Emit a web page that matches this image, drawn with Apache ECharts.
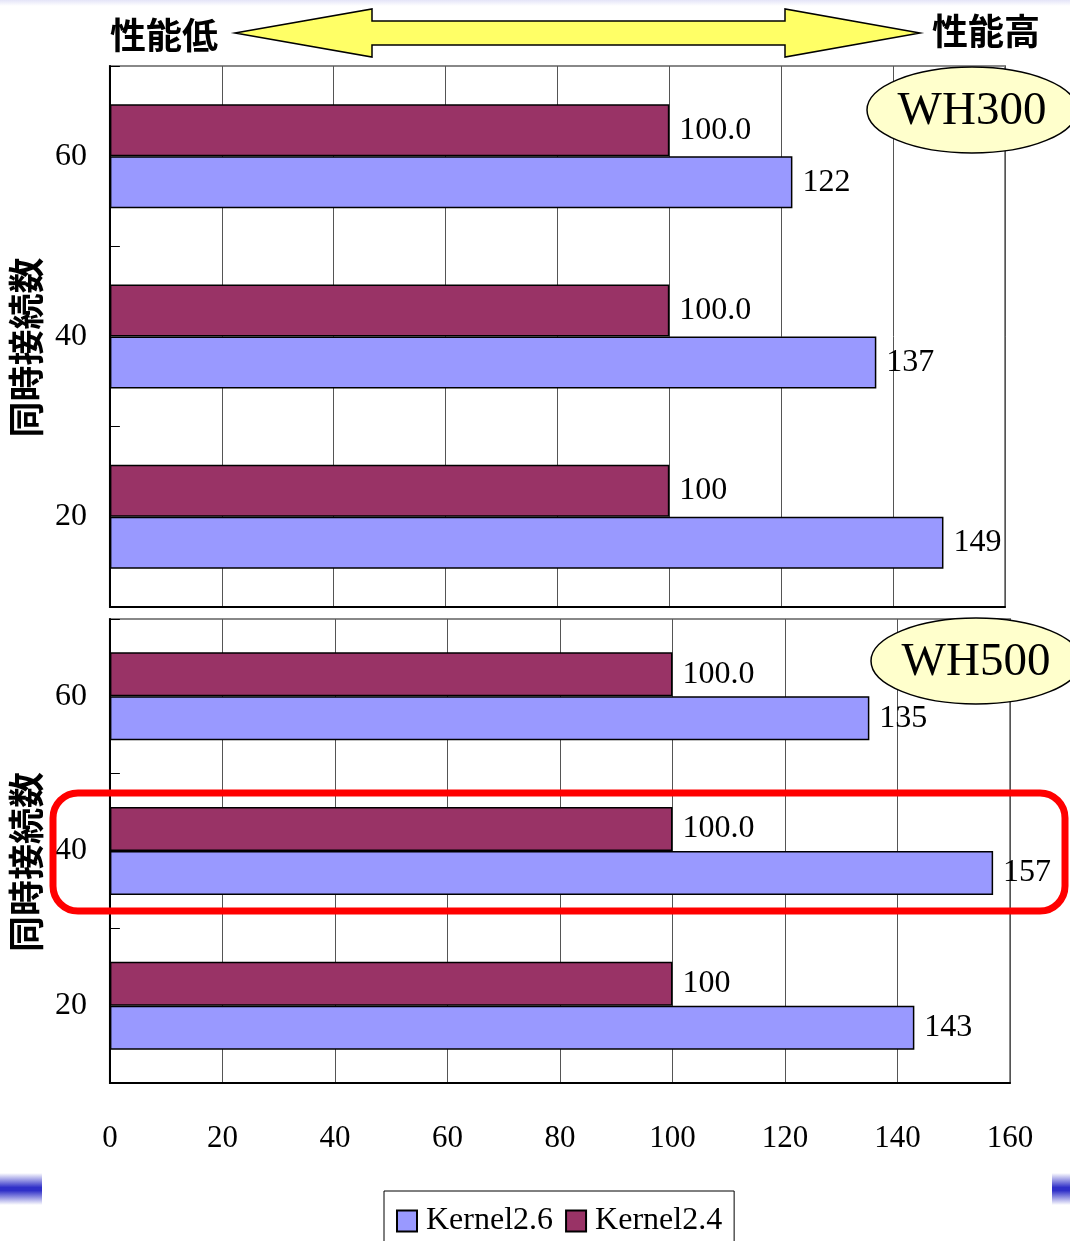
<!DOCTYPE html>
<html>
<head>
<meta charset="utf-8">
<title>WH300 / WH500 Kernel2.6 vs Kernel2.4</title>
<script src="https://cdn.jsdelivr.net/npm/echarts@6/dist/echarts.min.js"></script>
<style>
  html, body { margin: 0; padding: 0; background: #fff; }
  #chart { width: 1070px; height: 1241px; }
</style>
</head>
<body>
<div id="chart"></div>
<script>
// Concurrent connections (bottom to top)
const categories = ['20', '40', '60'];

// Relative performance, Kernel2.4 = 100
const wh300Kernel26 = [149, 137, 122];
const wh300Kernel24 = [100, 100, 100];
const wh500Kernel26 = [143, 157, 135];
const wh500Kernel24 = [100, 100, 100];

// Decimal places shown on the Kernel2.4 labels, per category
const kernel24Decimals = [0, 1, 1];

// Value axis ticks
const xMin = 0;
const xMax = 160;
const xInterval = 20;

const seriesNames = ['Kernel2.6', 'Kernel2.4'];
const panelNames = ['WH300', 'WH500'];
const axisTitle = '同時接続数';
const lowText = '性能低';
const highText = '性能高';

const BLUE = '#9999ff';
const MAROON = '#993366';
const SERIF = '"Liberation Serif", "Times New Roman", serif';
const CJK = '"Noto Sans CJK JP", "Noto Sans", sans-serif';

const chart = echarts.init(document.getElementById('chart'), null, { renderer: 'canvas' });

function xAxisFor(gridIndex, showLabels) {
  return {
    type: 'value', gridIndex, min: xMin, max: xMax, interval: xInterval,
    axisLine: { show: true, onZero: false, lineStyle: { color: '#000', width: 2 } },
    axisTick: { show: false },
    axisLabel: {
      show: showLabels, margin: 40, fontFamily: SERIF, fontSize: 31, color: '#000'
    },
    splitLine: { show: true, lineStyle: { color: '#555', width: 1 } }
  };
}

function yAxisFor(gridIndex) {
  return {
    type: 'category', gridIndex, data: categories,
    name: axisTitle, nameLocation: 'middle', nameRotate: 90, nameGap: 52,
    nameTextStyle: { fontFamily: CJK, fontSize: 36, fontWeight: 'bold', color: '#000', padding: [0, 22, 0, 0] },
    axisLine: { show: true, lineStyle: { color: '#000', width: 2 } },
    axisTick: { show: true, inside: true, length: 10, lineStyle: { color: '#000', width: 1 } },
    axisLabel: { margin: 23, fontFamily: SERIF, fontSize: 32, color: '#000' },
    splitLine: { show: false }
  };
}

function barSeries(name, values, axisIndex, color, width, formatter) {
  return {
    name, type: 'bar', xAxisIndex: axisIndex, yAxisIndex: axisIndex,
    data: values, barWidth: width, barGap: '0%',
    itemStyle: { color, borderColor: '#000', borderWidth: 1.5 },
    label: {
      show: true, position: 'right', distance: 10,
      fontFamily: SERIF, fontSize: 32, color: '#000',
      formatter
    },
    animation: false
  };
}

const k26Label = p => String(p.value);
const k24Label = p => Number(p.value).toFixed(kernel24Decimals[p.dataIndex]);

function panelBadge(cx, cy, text) {
  return [
    { type: 'ellipse', shape: { cx, cy, rx: 105, ry: 43 },
      style: { fill: '#ffffcc', stroke: '#000', lineWidth: 1.5 }, z: 50 },
    { type: 'text', x: cx, y: cy + 2,
      style: { text, fontFamily: SERIF, fontSize: 47, fill: '#000', align: 'center', verticalAlign: 'middle' }, z: 51 }
  ];
}

function sideStripe(x, width) {
  return {
    type: 'rect', shape: { x, y: 1173, width, height: 32 },
    style: {
      fill: new echarts.graphic.LinearGradient(0, 0, 0, 1, [
        { offset: 0, color: 'rgba(255,255,255,1)' },
        { offset: 0.45, color: '#3030c8' },
        { offset: 0.55, color: '#3030c8' },
        { offset: 1, color: 'rgba(255,255,255,1)' }
      ])
    }, z: 1
  };
}

const option = {
  backgroundColor: '#fff',
  animation: false,
  grid: [
    { left: 109, right: 65, top: 66, height: 541, show: true, borderColor: '#888', borderWidth: 2, backgroundColor: '#fff' },
    { left: 109, right: 60, top: 619, height: 464, show: true, borderColor: '#888', borderWidth: 2, backgroundColor: '#fff' }
  ],
  xAxis: [xAxisFor(0, false), xAxisFor(1, true)],
  yAxis: [yAxisFor(0), yAxisFor(1)],
  legend: {
    data: seriesNames,
    left: 384, top: 1191,
    padding: [14, 12, 14, 12],
    itemWidth: 20, itemHeight: 21, itemGap: 12,
    icon: 'rect',
    borderColor: '#000', borderWidth: 1,
    backgroundColor: '#fff',
    textStyle: { fontFamily: SERIF, fontSize: 32, color: '#000', padding: [0, 0, 0, 4] }
  },
  // Kernel2.4 listed first so it sits above Kernel2.6 in each band
  series: [
    barSeries(seriesNames[1], wh300Kernel24, 0, MAROON, 52, k24Label),
    barSeries(seriesNames[0], wh300Kernel26, 0, BLUE, 52, k26Label),
    barSeries(seriesNames[1], wh500Kernel24, 1, MAROON, 44, k24Label),
    barSeries(seriesNames[0], wh500Kernel26, 1, BLUE, 44, k26Label)
  ],
  graphic: [
    // faint band along the top edge
    { type: 'rect', shape: { x: 0, y: 0, width: 1070, height: 6 },
      style: { fill: new echarts.graphic.LinearGradient(0, 0, 0, 1, [
        { offset: 0, color: '#e4e4f8' }, { offset: 1, color: '#ffffff' }]) }, z: 1 },
    // low / high performance double arrow
    { type: 'polygon',
      shape: { points: [[235, 33], [372, 9], [372, 21], [785, 21], [785, 9], [920, 33],
                        [785, 57], [785, 45], [372, 45], [372, 57]] },
      style: { fill: '#ffff66', stroke: '#000', lineWidth: 1.5 }, z: 10 },
    { type: 'text', x: 110, y: 35,
      style: { text: lowText, fontFamily: CJK, fontSize: 36, fontWeight: 'bold', fill: '#000', align: 'left', verticalAlign: 'middle' }, z: 10 },
    { type: 'text', x: 1040, y: 31,
      style: { text: highText, fontFamily: CJK, fontSize: 36, fontWeight: 'bold', fill: '#000', align: 'right', verticalAlign: 'middle' }, z: 10 },
    ...panelBadge(972, 110, panelNames[0]),
    ...panelBadge(976, 661, panelNames[1]),
    // highlight around the 40-connection WH500 result
    { type: 'rect', shape: { x: 53, y: 793, width: 1012, height: 118, r: 25 },
      style: { fill: null, stroke: '#ff0000', lineWidth: 7 }, z: 60 },
    sideStripe(0, 42),
    sideStripe(1052, 18)
  ]
};

chart.setOption(option);
</script>
</body>
</html>
